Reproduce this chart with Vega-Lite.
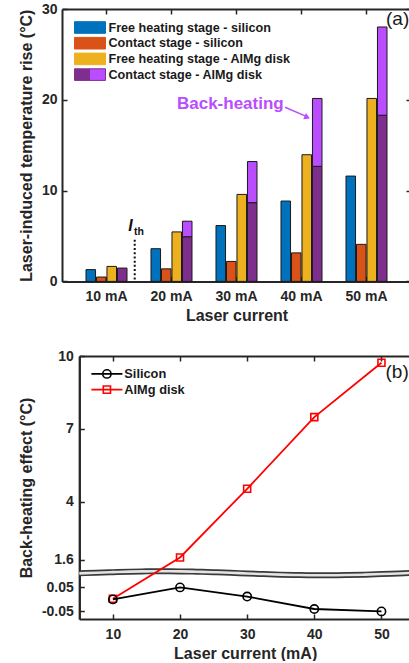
{
  "$schema": "https://vega.github.io/schema/vega-lite/v6.json",
  "padding": {"left": 18, "top": 2, "right": 0, "bottom": 0},
  "autosize": {"type": "pad"},
  "config": {
    "font": "Liberation Sans",
    "view": {"stroke": null},
    "axis": {
      "labelFontSize": 14, "labelFontWeight": "bold", "labelColor": "#262626",
      "titleFontSize": 16, "titleFontWeight": "bold", "titleColor": "#262626",
      "domainColor": "#262626", "domainWidth": 2, "tickColor": "#262626", "tickWidth": 1.5,
      "tickSize": -5, "grid": false, "labelPadding": 10, "titlePadding": 7
    }
  },
  "spacing": 25,
  "resolve": {"scale": {"color": "independent"}, "legend": {"color": "independent"}},
  "datasets": {
    "bars": [
      {"current": "10 mA", "bar": "Free heating stage - silicon", "part": "Free heating stage - silicon", "base": 0, "top": 1.3},
      {"current": "10 mA", "bar": "Contact stage - silicon", "part": "Contact stage - silicon", "base": 0, "top": 0.48},
      {"current": "10 mA", "bar": "Free heating stage - AlMg disk", "part": "Free heating stage - AlMg disk", "base": 0, "top": 1.65},
      {"current": "10 mA", "bar": "Contact stage - AlMg disk", "part": "Contact stage - AlMg disk", "base": 0, "top": 1.47},
      {"current": "20 mA", "bar": "Free heating stage - silicon", "part": "Free heating stage - silicon", "base": 0, "top": 3.6},
      {"current": "20 mA", "bar": "Contact stage - silicon", "part": "Contact stage - silicon", "base": 0, "top": 1.38},
      {"current": "20 mA", "bar": "Free heating stage - AlMg disk", "part": "Free heating stage - AlMg disk", "base": 0, "top": 5.45},
      {"current": "20 mA", "bar": "Contact stage - AlMg disk", "part": "Contact stage - AlMg disk", "base": 0, "top": 4.92},
      {"current": "20 mA", "bar": "Contact stage - AlMg disk", "part": "Back-heating", "base": 4.92, "top": 6.63},
      {"current": "30 mA", "bar": "Free heating stage - silicon", "part": "Free heating stage - silicon", "base": 0, "top": 6.15},
      {"current": "30 mA", "bar": "Contact stage - silicon", "part": "Contact stage - silicon", "base": 0, "top": 2.2},
      {"current": "30 mA", "bar": "Free heating stage - AlMg disk", "part": "Free heating stage - AlMg disk", "base": 0, "top": 9.58},
      {"current": "30 mA", "bar": "Contact stage - AlMg disk", "part": "Contact stage - AlMg disk", "base": 0, "top": 8.67},
      {"current": "30 mA", "bar": "Contact stage - AlMg disk", "part": "Back-heating", "base": 8.67, "top": 13.2},
      {"current": "40 mA", "bar": "Free heating stage - silicon", "part": "Free heating stage - silicon", "base": 0, "top": 8.85},
      {"current": "40 mA", "bar": "Contact stage - silicon", "part": "Contact stage - silicon", "base": 0, "top": 3.14},
      {"current": "40 mA", "bar": "Free heating stage - AlMg disk", "part": "Free heating stage - AlMg disk", "base": 0, "top": 13.95},
      {"current": "40 mA", "bar": "Contact stage - AlMg disk", "part": "Contact stage - AlMg disk", "base": 0, "top": 12.67},
      {"current": "40 mA", "bar": "Contact stage - AlMg disk", "part": "Back-heating", "base": 12.67, "top": 20.15},
      {"current": "50 mA", "bar": "Free heating stage - silicon", "part": "Free heating stage - silicon", "base": 0, "top": 11.6},
      {"current": "50 mA", "bar": "Contact stage - silicon", "part": "Contact stage - silicon", "base": 0, "top": 4.08},
      {"current": "50 mA", "bar": "Free heating stage - AlMg disk", "part": "Free heating stage - AlMg disk", "base": 0, "top": 20.15},
      {"current": "50 mA", "bar": "Contact stage - AlMg disk", "part": "Contact stage - AlMg disk", "base": 0, "top": 18.3},
      {"current": "50 mA", "bar": "Contact stage - AlMg disk", "part": "Back-heating", "base": 18.3, "top": 28.02}
    ],
    "effect": [
      {"current": 10, "series": "Silicon", "value": 0.0},
      {"current": 20, "series": "Silicon", "value": 0.05},
      {"current": 30, "series": "Silicon", "value": 0.012},
      {"current": 40, "series": "Silicon", "value": -0.04},
      {"current": 50, "series": "Silicon", "value": -0.05},
      {"current": 10, "series": "AlMg disk", "value": 0.0},
      {"current": 20, "series": "AlMg disk", "value": 1.7},
      {"current": 30, "series": "AlMg disk", "value": 4.53},
      {"current": 40, "series": "AlMg disk", "value": 7.48},
      {"current": 50, "series": "AlMg disk", "value": 9.72}
    ],
    "wave": [
      {"x": 5, "y": 1.045}, {"x": 7.5, "y": 1.072}, {"x": 10, "y": 1.096}, {"x": 12.5, "y": 1.116},
      {"x": 15, "y": 1.128}, {"x": 17.5, "y": 1.132}, {"x": 20, "y": 1.127}, {"x": 22.5, "y": 1.113},
      {"x": 25, "y": 1.093}, {"x": 27.5, "y": 1.069}, {"x": 30, "y": 1.042}, {"x": 32.5, "y": 1.016},
      {"x": 35, "y": 0.993}, {"x": 37.5, "y": 0.977}, {"x": 40, "y": 0.968}, {"x": 42.5, "y": 0.968},
      {"x": 45, "y": 0.977}, {"x": 47.5, "y": 0.993}, {"x": 50, "y": 1.016}, {"x": 52.5, "y": 1.042},
      {"x": 54.4, "y": 1.062}
    ]
  },
  "vconcat": [
    {
      "width": 349,
      "height": 272.4,
      "resolve": {"scale": {"color": "independent"}, "legend": {"color": "independent"}},
      "layer": [
        {
          "data": {"name": "bars"},
          "mark": {"type": "bar", "stroke": "#1a1a1a", "strokeWidth": 1},
          "encoding": {
            "x": {"field": "current", "type": "nominal", "scale": {"paddingInner": 0.369, "paddingOuter": 0.369},
              "axis": {"orient": "bottom", "title": "Laser current", "labelAngle": 0, "labelPadding": 13, "titlePadding": 4}},
            "xOffset": {"field": "bar", "type": "nominal",
              "scale": {"domain": ["Free heating stage - silicon", "Contact stage - silicon", "Free heating stage - AlMg disk", "Contact stage - AlMg disk"], "paddingInner": 0.09, "paddingOuter": 0}},
            "y": {"field": "top", "type": "quantitative", "scale": {"domain": [0, 30], "nice": false},
              "axis": {"orient": "left", "title": "Laser-induced temperature rise (°C)", "values": [0, 10, 20, 30]}},
            "y2": {"field": "base"},
            "color": {"field": "part", "type": "nominal",
              "scale": {"domain": ["Free heating stage - silicon", "Contact stage - silicon", "Free heating stage - AlMg disk", "Contact stage - AlMg disk", "Back-heating"],
                        "range": ["#0072BD", "#D95319", "#EDB120", "#7E2F8E", "#B94DFF"]},
              "legend": null}
          }
        },
        {
          "data": {"name": "bars"},
          "mark": {"type": "rule", "opacity": 0},
          "encoding": {
            "x": {"field": "current", "type": "nominal", "axis": null},
            "y": {"field": "top", "type": "quantitative", "axis": null},
            "color": {"field": "part", "type": "nominal",
              "scale": {"domain": ["Free heating stage - silicon", "Contact stage - silicon", "Free heating stage - AlMg disk", "Contact stage - AlMg disk", "Back-heating"],
                        "range": ["#0072BD", "#D95319", "#EDB120", "#7E2F8E", "#B94DFF"]},
              "legend": {
                "values": ["Free heating stage - silicon", "Contact stage - silicon", "Free heating stage - AlMg disk", "Contact stage - AlMg disk"],
                "orient": "none", "legendX": 21.5, "legendY": 12, "title": null, "padding": 0,
                "symbolType": "M-2.67,-1H2.67V1H-2.67Z", "symbolSize": 135, "symbolOpacity": 1,
                "symbolStrokeColor": "#333333", "symbolStrokeWidth": 1,
                "labelFontSize": 12.6, "labelFontWeight": "bold", "labelColor": "#1a1a1a", "labelLimit": 400,
                "labelOffset": 12, "rowPadding": -1.3,
                "encode": {"symbols": {"update": {
                  "fill": {"signal": "datum.value === 'Contact stage - AlMg disk' ? {gradient: 'linear', x1: 0, y1: 0, x2: 1, y2: 0, stops: [{offset: 0, color: '#7E2F8E'}, {offset: 0.5, color: '#7E2F8E'}, {offset: 0.5, color: '#B94DFF'}, {offset: 1, color: '#B94DFF'}]} : datum.value === 'Free heating stage - silicon' ? '#0072BD' : datum.value === 'Contact stage - silicon' ? '#D95319' : '#EDB120'"},
                  "fillOpacity": {"value": 1},
                  "stroke": {"value": "#333333"},
                  "strokeWidth": {"value": 1},
                  "opacity": {"value": 1}
                }}}
              }}
          }
        },
        {
          "data": {"values": [{"current": "10 mA", "from": 0, "to": 4.6}]},
          "mark": {"type": "rule", "strokeDash": [2, 2.2], "strokeWidth": 2, "color": "#111111"},
          "encoding": {
            "x": {"field": "current", "type": "nominal", "bandPosition": 1.188, "axis": null},
            "y": {"field": "to", "type": "quantitative", "axis": null},
            "y2": {"field": "from"}
          }
        },
        {
          "data": {"values": [{"current": "10 mA", "label": "I", "y": 5.51}]},
          "mark": {"type": "text", "fontSize": 16, "fontWeight": "bold", "fontStyle": "italic", "align": "center", "baseline": "alphabetic", "color": "#111111"},
          "encoding": {
            "x": {"field": "current", "type": "nominal", "bandPosition": 1.085, "axis": null},
            "y": {"field": "y", "type": "quantitative", "axis": null},
            "text": {"field": "label"}
          }
        },
        {
          "data": {"values": [{"current": "10 mA", "label": "th", "y": 5.14}]},
          "mark": {"type": "text", "fontSize": 10.5, "fontWeight": "bold", "align": "left", "baseline": "alphabetic", "color": "#111111"},
          "encoding": {
            "x": {"field": "current", "type": "nominal", "bandPosition": 1.17, "axis": null},
            "y": {"field": "y", "type": "quantitative", "axis": null},
            "text": {"field": "label"}
          }
        },
        {
          "data": {"values": [{"current": "30 mA", "label": "Back-heating", "y": 19.55}]},
          "mark": {"type": "text", "fontSize": 17, "fontWeight": "bold", "align": "center", "baseline": "middle", "color": "#B94DFF"},
          "encoding": {
            "x": {"field": "current", "type": "nominal", "bandPosition": 0.35, "axis": null},
            "y": {"field": "y", "type": "quantitative", "axis": null},
            "text": {"field": "label"}
          }
        },
        {
          "data": {"values": [{"current": "40 mA", "from": 19.18, "to": 18.2}]},
          "mark": {"type": "rule", "strokeWidth": 1.5, "color": "#B94DFF"},
          "encoding": {
            "x": {"field": "current", "type": "nominal", "bandPosition": 0.1, "axis": null},
            "x2": {"field": "current", "bandPosition": 0.6},
            "y": {"field": "from", "type": "quantitative", "axis": null},
            "y2": {"field": "to"}
          }
        },
        {
          "data": {"values": [{"current": "40 mA", "y": 18.07}]},
          "mark": {"type": "point", "shape": "triangle-up", "angle": 115, "size": 45, "filled": true, "opacity": 1, "color": "#B94DFF"},
          "encoding": {
            "x": {"field": "current", "type": "nominal", "bandPosition": 0.64, "axis": null},
            "y": {"field": "y", "type": "quantitative", "axis": null}
          }
        },
        {
          "data": {"values": [{"current": "50 mA", "label": "(a)", "y": 28.85}]},
          "mark": {"type": "text", "fontSize": 19, "align": "left", "baseline": "middle", "color": "#1a1a1a"},
          "encoding": {
            "x": {"field": "current", "type": "nominal", "bandPosition": 0.976,
              "axis": {"orient": "top", "labels": false, "title": null, "domain": true}},
            "y": {"field": "y", "type": "quantitative",
              "axis": {"orient": "right", "labels": false, "title": null, "domain": false, "values": [0, 10, 20, 30]}},
            "text": {"field": "label"}
          }
        }
      ]
    },
    {
      "width": 349,
      "height": 263,
      "layer": [
        {
          "data": {"name": "wave"},
          "mark": {"type": "line", "strokeWidth": 6, "color": "#3a3a3a", "interpolate": "monotone"},
          "encoding": {
            "x": {"field": "x", "type": "quantitative", "scale": {"domain": [5, 54.4], "range": [17.3, 349], "nice": false, "zero": false}, "axis": null},
            "y": {"field": "y", "type": "quantitative", "scale": {"domain": [-0.835, 10], "nice": false, "zero": false}, "axis": null}
          }
        },
        {
          "data": {"name": "wave"},
          "mark": {"type": "line", "strokeWidth": 2.6, "color": "#e4e4e4", "interpolate": "monotone"},
          "encoding": {
            "x": {"field": "x", "type": "quantitative", "scale": {"domain": [5, 54.4], "range": [17.3, 349], "nice": false, "zero": false}, "axis": null},
            "y": {"field": "y", "type": "quantitative", "scale": {"domain": [-0.835, 10], "nice": false, "zero": false}, "axis": null}
          }
        },
        {
          "data": {"name": "effect"},
          "transform": [{"filter": "datum.series === 'AlMg disk'"}],
          "mark": {"type": "line", "strokeWidth": 1.8},
          "encoding": {
            "x": {"field": "current", "type": "quantitative", "scale": {"domain": [5, 54.4], "range": [17.3, 349], "nice": false, "zero": false},
              "axis": {"orient": "bottom", "values": [10, 20, 30, 40, 50], "title": "Laser current (mA)", "labelPadding": 13, "titlePadding": 4}},
            "y": {"field": "value", "type": "quantitative", "scale": {"domain": [-0.835, 10], "nice": false, "zero": false},
              "axis": {"orient": "left", "offset": -17.3, "values": [1.6, 4, 7, 10], "labelExpr": "datum.value + ''", "title": null, "labelPadding": 11}},
            "color": {"field": "series", "type": "nominal", "scale": {"domain": ["Silicon", "AlMg disk"], "range": ["#000000", "#FF0000"]},
              "legend": {
                "orient": "none", "legendX": 38.5, "legendY": 11.5, "title": null, "padding": 0,
                "symbolSize": 100, "symbolStrokeWidth": 1.6,
                "labelFontSize": 12.8, "labelFontWeight": "bold", "labelColor": "#1a1a1a", "labelOffset": 11, "rowPadding": 0.7, "labelLimit": 300,
                "encode": {"symbols": {"update": {
                  "shape": {"signal": "datum.value === 'Silicon' ? 'M-3.1,0H3.1M0.83,0A0.83,0.83 0 1,1 -0.83,0A0.83,0.83 0 1,1 0.83,0' : 'M-3.1,0H3.1M-0.72,-0.72H0.72V0.72H-0.72Z'"},
                  "stroke": {"signal": "datum.value === 'Silicon' ? '#000000' : '#FF0000'"},
                  "fill": {"value": "transparent"},
                  "strokeWidth": {"value": 1.6},
                  "opacity": {"value": 1}
                }}}
              }}
          }
        },
        {
          "data": {"name": "effect"},
          "transform": [{"filter": "datum.series === 'AlMg disk'"}],
          "mark": {"type": "point", "shape": "square", "filled": false, "size": 49, "strokeWidth": 1.6, "opacity": 1},
          "encoding": {
            "x": {"field": "current", "type": "quantitative", "scale": {"domain": [5, 54.4], "range": [17.3, 349], "nice": false, "zero": false}, "axis": null},
            "y": {"field": "value", "type": "quantitative", "scale": {"domain": [-0.835, 10], "nice": false, "zero": false}, "axis": null},
            "color": {"field": "series", "type": "nominal", "scale": {"domain": ["Silicon", "AlMg disk"], "range": ["#000000", "#FF0000"]}}
          }
        },
        {
          "data": {"values": [{"x": 50.6, "y": 9.34, "label": "(b)"}]},
          "mark": {"type": "text", "fontSize": 19, "align": "left", "baseline": "middle", "color": "#1a1a1a"},
          "encoding": {
            "x": {"field": "x", "type": "quantitative", "scale": {"domain": [5, 54.4], "range": [17.3, 349], "nice": false, "zero": false}, "axis": null},
            "y": {"field": "y", "type": "quantitative", "scale": {"domain": [-0.835, 10], "nice": false, "zero": false}, "axis": null},
            "text": {"field": "label"}
          }
        },
        {
          "data": {"name": "effect"},
          "transform": [{"filter": "datum.series === 'Silicon'"}],
          "mark": {"type": "line", "strokeWidth": 1.8},
          "encoding": {
            "x": {"field": "current", "type": "quantitative", "scale": {"domain": [5, 54.4], "range": [17.3, 349], "nice": false, "zero": false}, "axis": null},
            "y": {"field": "value", "type": "quantitative", "scale": {"domain": [-0.0817, 1.015], "nice": false, "zero": false},
              "axis": {"orient": "left", "offset": -17.3, "values": [-0.05, 0.05], "labelExpr": "datum.value + ''", "title": "Back-heating effect (°C)", "labelPadding": 11}},
            "color": {"field": "series", "type": "nominal", "scale": {"domain": ["Silicon", "AlMg disk"], "range": ["#000000", "#FF0000"]}}
          }
        },
        {
          "data": {"name": "effect"},
          "transform": [{"filter": "datum.series === 'Silicon'"}],
          "mark": {"type": "point", "shape": "circle", "filled": false, "size": 69, "strokeWidth": 1.6, "opacity": 1},
          "encoding": {
            "x": {"field": "current", "type": "quantitative", "scale": {"domain": [5, 54.4], "range": [17.3, 349], "nice": false, "zero": false},
              "axis": {"orient": "top", "values": [10, 20, 30, 40, 50], "labels": false, "title": null}},
            "y": {"field": "value", "type": "quantitative", "scale": {"domain": [-0.0817, 1.015], "nice": false, "zero": false}, "axis": null},
            "color": {"field": "series", "type": "nominal", "scale": {"domain": ["Silicon", "AlMg disk"], "range": ["#000000", "#FF0000"]}}
          }
        }
      ],
      "resolve": {"scale": {"y": "independent"}}
    }
  ]
}
